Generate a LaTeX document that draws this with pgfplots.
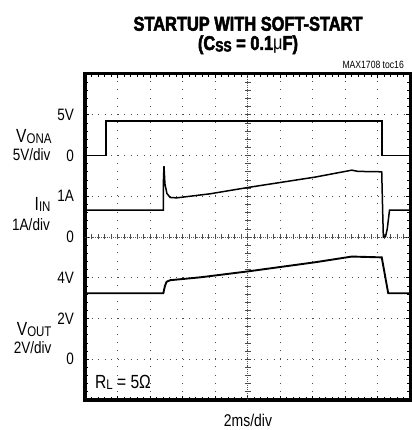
\documentclass[border=0pt]{standalone}
\usepackage{pgfplots}
\pgfplotsset{compat=1.18}
\usepackage{fontspec}
\setmainfont{Liberation Sans}[FakeStretch=0.82]
\newfontfamily\titlefont{Liberation Sans}[FakeStretch=0.82,BoldFeatures={FakeBold=2.5}]
\newcommand\fs[1]{\fontsize{#1}{#1}\selectfont}
\newcommand\sig[2]{{\fs{19bp}#1}\raisebox{-1bp}{\fs{14bp}#2}}
\begin{document}
\begin{tikzpicture}
\path[use as bounding box] (0bp,0bp) rectangle (412bp,430bp);
\begin{axis}[
  at={(85bp,30bp)}, anchor=south west,
  scale only axis, width=325bp, height=326bp,
  xmin=0, xmax=10, ymin=0, ymax=8,
  xtick={0,...,10}, ytick={0,...,8},
  xticklabels={},
  yticklabels={,0,\raisebox{-4bp}{2V},\raisebox{-4bp}{4V},0,1A,0,5V,},
  yticklabel style={font=\fs{16.5bp}, inner sep=0pt, xshift=-11bp},
  minor x tick num=4, minor y tick num=4,
  tick align=inside,
  major tick length=4bp, minor tick length=3bp,
  tick style={black, line width=0.7bp},
  grid=major,
  major x grid style={black!70, line width=0.9bp, dash pattern=on 0.9bp off 7.25bp},
  major y grid style={black!70, line width=0.9bp, dash pattern=on 0.9bp off 5.6bp},
  axis line style={line width=3bp},
  clip=false,
]
% centre crosshair
\draw[black!65, line width=0.8bp, dash pattern=on 0.8bp off 1.2bp] (axis cs:0,4) -- (axis cs:10,4);
\draw[black!65, line width=0.8bp, dash pattern=on 0.8bp off 1.2bp] (axis cs:5,0) -- (axis cs:5,8);
\pgfplotsinvokeforeach{0.2,0.4,...,9.8}{\draw[black!70,line width=0.7bp] (axis cs:#1,4) ++(0bp,-2.5bp) -- ++(0bp,5bp);}
\pgfplotsinvokeforeach{0.2,0.4,...,7.8}{\draw[black!70,line width=0.7bp] (axis cs:5,#1) ++(-3bp,0bp) -- ++(6bp,0bp);}
% V_ONA
\addplot[black, line width=1.8bp] coordinates {
(0,6.0) (0.65,6.0) (0.65,6.84) (9.13,6.84) (9.13,6.0) (10,6.0)};
% I_IN
\addplot[black, line width=1.5bp] coordinates {
(0,4.66) (2.41,4.66) (2.41,5.30) (2.43,5.74) (2.46,5.30) (2.52,5.07)
(2.62,4.97) (2.82,4.96) (3.54,5.03) (3.85,5.06) (5.05,5.22) (7.08,5.47)
(8.21,5.64) (8.4,5.61) (9.13,5.60) (9.16,4.6) (9.18,4.0) (9.25,4.02)
(9.30,4.2) (9.37,4.66) (10,4.66)};
% V_OUT
\addplot[black, line width=1.9bp] coordinates {
(0,2.62) (2.41,2.62) (2.46,2.80) (2.51,2.90) (2.62,2.94) (3.54,3.01)
(3.85,3.04) (5.05,3.16) (7.08,3.38) (8.21,3.52) (9.13,3.50) (9.33,2.62) (10,2.62)};
\end{axis}
% labels
\node[anchor=base east, inner sep=0pt] at (51.7bp,287.3bp) {\sig{V}{ONA}};
\node[anchor=base east, inner sep=0pt, font=\fs{16.5bp}] at (50.7bp,269bp) {5V/div};
\node[anchor=base east, inner sep=0pt] at (50.7bp,219bp) {\sig{I}{IN}};
\node[anchor=base east, inner sep=0pt, font=\fs{16.5bp}] at (50bp,199bp) {1A/div};
\node[anchor=base east, inner sep=0pt] at (51.7bp,94bp) {\sig{V}{OUT}};
\node[anchor=base east, inner sep=0pt, font=\fs{16.5bp}] at (51.7bp,76.7bp) {2V/div};
\node[anchor=base west, inner sep=0pt] at (95bp,41.7bp) {\sig{R}{L}{\fs{19bp} = 5Ω}};
\node[anchor=base, inner sep=0pt, font=\fs{17bp}] at (248bp,4bp) {2ms/div};
% title
\node[anchor=base, inner sep=0pt] at (248bp,399.3bp) {\titlefont\bfseries\fs{20bp}STARTUP WITH SOFT-START};
\node[anchor=base, inner sep=0pt] at (248bp,380bp) {\titlefont\bfseries\fs{20bp}(C\raisebox{-1.5bp}{\fs{15bp}SS} = 0.1{\mdseries μ}F)};
\node[anchor=base east, inner sep=0pt, font=\fs{10.5bp}] at (404bp,361bp) {MAX1708 toc16};
\end{tikzpicture}
\end{document}
